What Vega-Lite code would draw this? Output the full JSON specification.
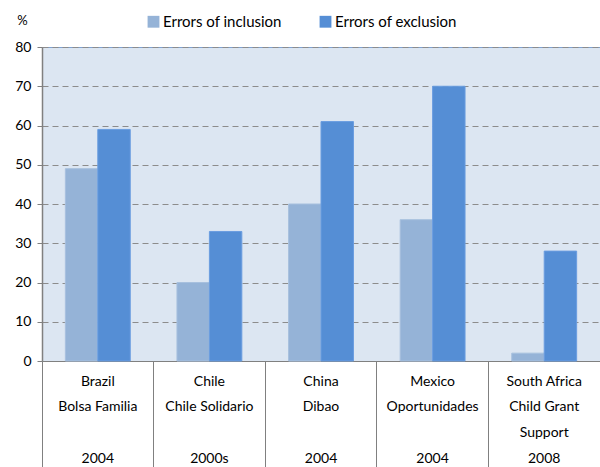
{
  "$schema": "https://vega.github.io/schema/vega-lite/v6.json",
  "autosize": {"type": "none"},
  "padding": {"left": 42, "top": 47, "right": 0, "bottom": 106},
  "width": 558,
  "height": 314,
  "background": "white",
  "config": {
    "font": "Lato",
    "view": {"fill": "#dce6f2", "stroke": "#7da0d0", "strokeWidth": 1}
  },
  "data": {
    "values": [
      {"program": "Brazil|Bolsa Familia|\u200b|2004", "series": "Errors of inclusion", "value": 49},
      {"program": "Brazil|Bolsa Familia|\u200b|2004", "series": "Errors of exclusion", "value": 59},
      {"program": "Chile|Chile Solidario|\u200b|2000s", "series": "Errors of inclusion", "value": 20},
      {"program": "Chile|Chile Solidario|\u200b|2000s", "series": "Errors of exclusion", "value": 33},
      {"program": "China|Dibao|\u200b|2004", "series": "Errors of inclusion", "value": 40},
      {"program": "China|Dibao|\u200b|2004", "series": "Errors of exclusion", "value": 61},
      {"program": "Mexico|Oportunidades|\u200b|2004", "series": "Errors of inclusion", "value": 36},
      {"program": "Mexico|Oportunidades|\u200b|2004", "series": "Errors of exclusion", "value": 70},
      {"program": "South Africa|Child Grant|Support|2008", "series": "Errors of inclusion", "value": 2},
      {"program": "South Africa|Child Grant|Support|2008", "series": "Errors of exclusion", "value": 28}
    ]
  },
  "mark": {"type": "bar", "strokeWidth": 1},
  "encoding": {
    "x": {
      "field": "program",
      "type": "nominal",
      "sort": null,
      "scale": {"paddingInner": 0, "paddingOuter": 0},
      "axis": {
        "title": null,
        "labelAngle": 0,
        "labelExpr": "split(datum.label, '|')",
        "labelLineHeight": 25.7,
        "labelFontSize": 14,
        "labelColor": "#000000",
        "labelPadding": -93,
        "labelBaseline": "top",
        "bandPosition": 0,
        "tickSize": 106,
        "tickColor": "#808080",
        "domainColor": "#808080",
        "ticks": true,
        "grid": false
      }
    },
    "xOffset": {
      "field": "series",
      "type": "nominal",
      "sort": ["Errors of inclusion", "Errors of exclusion"],
      "scale": {"paddingInner": 0, "paddingOuter": 0.72}
    },
    "y": {
      "field": "value",
      "type": "quantitative",
      "scale": {"domain": [0, 80]},
      "axis": {
        "title": "%",
        "titleAngle": 0,
        "titleAnchor": "end",
        "titleAlign": "center",
        "titleBaseline": "bottom",
        "titleX": -20,
        "titleY": -20,
        "titleFontSize": 13,
        "titleFontWeight": "normal",
        "values": [0, 10, 20, 30, 40, 50, 60, 70, 80],
        "labelFontSize": 14,
        "labelColor": "#000000",
        "labelPadding": 6,
        "tickSize": 5,
        "tickColor": "#808080",
        "domainColor": "#808080",
        "domainWidth": 1.5,
        "grid": true,
        "gridColor": "#8c8c8c",
        "gridDash": [6, 4],
        "gridWidth": 1.2
      }
    },
    "color": {
      "field": "series",
      "type": "nominal",
      "sort": ["Errors of inclusion", "Errors of exclusion"],
      "scale": {"range": ["#95b3d7", "#558ed5"]},
      "legend": {
        "title": null,
        "orient": "none",
        "legendX": 104,
        "legendY": -33,
        "direction": "horizontal",
        "symbolType": "square",
        "symbolSize": 140,
        "symbolStrokeWidth": 0,
        "labelFontSize": 15,
        "labelColor": "#000000",
        "columnPadding": 36,
        "labelOffset": 2
      }
    },
    "stroke": {
      "field": "series",
      "type": "nominal",
      "sort": ["Errors of inclusion", "Errors of exclusion"],
      "scale": {"range": ["#a7c0de", "#6a9de0"]},
      "legend": null
    }
  }
}
